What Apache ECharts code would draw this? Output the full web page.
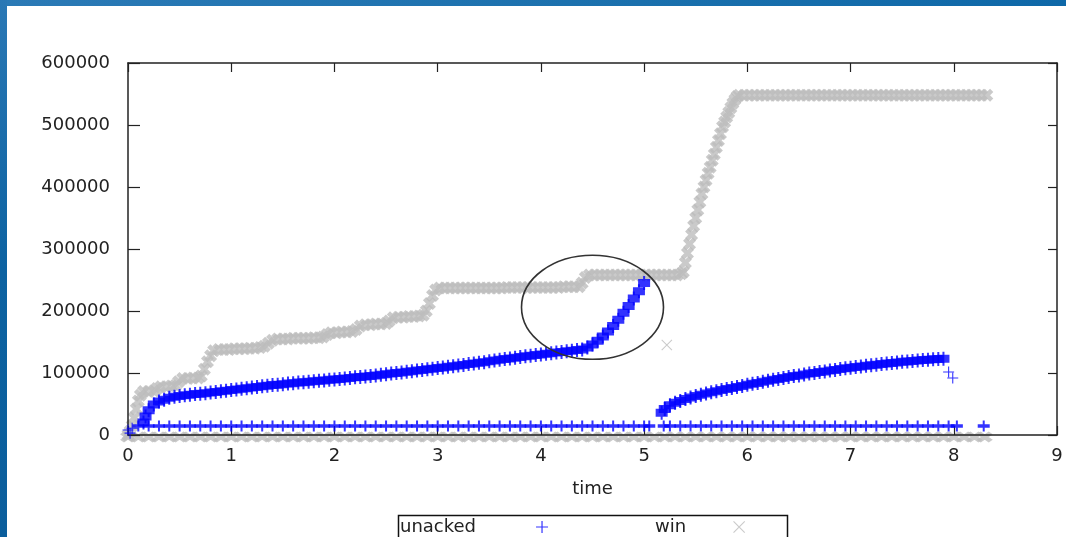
<!DOCTYPE html>
<html>
<head>
<meta charset="utf-8">
<script src="https://cdn.jsdelivr.net/npm/echarts@6/dist/echarts.min.js"></script>
<style>
  html, body { margin: 0; padding: 0; background: #ffffff; }
  #topbar { position: absolute; left: 0; top: 0; width: 1066px; height: 6px;
            background: linear-gradient(90deg, #2b7ab6, #1a70ad 60%, #0e68a8); }
  #sidebar { position: absolute; left: 0; top: 0; width: 7px; height: 537px;
             background: linear-gradient(180deg, #2a78b5, #0c62a1 50%, #0b5e9c); }
  #main { position: absolute; left: 0; top: 0; width: 1066px; height: 537px; }
</style>
</head>
<body>
<div id="topbar"></div>
<div id="sidebar"></div>
<div id="main"></div>
<script>
// ---- data: [time, bytes] ----
var unackedMain = [
  [0.15,20000],[0.17,30000],[0.20,40000],[0.25,49000],[0.30,54000],[0.35,57000],[0.40,60000],[0.45,61500],
  [0.50,63000],[0.55,64000],[0.60,65000],[0.65,66000],[0.70,66500],[0.75,67500],[0.80,68500],[0.85,69500],
  [0.90,70500],[0.95,71500],[1.00,72500],[1.05,73500],[1.10,74500],[1.15,75500],[1.20,76500],[1.25,77500],
  [1.30,78500],[1.35,79500],[1.40,80500],[1.45,81000],[1.50,82000],[1.55,83000],[1.60,83500],[1.65,84500],
  [1.70,85000],[1.75,86000],[1.80,86500],[1.85,87500],[1.90,88000],[1.95,89000],[2.00,89500],[2.05,90500],
  [2.10,91000],[2.15,92000],[2.20,93000],[2.25,93500],[2.30,94500],[2.35,95000],[2.40,96000],[2.45,97000],
  [2.50,98000],[2.55,99000],[2.60,100000],[2.65,101000],[2.70,102000],[2.75,103000],[2.80,104000],[2.85,105000],
  [2.90,106000],[2.95,107000],[3.00,108000],[3.05,109000],[3.10,110000],[3.15,111000],[3.20,112000],[3.25,113000],
  [3.30,114500],[3.35,115500],[3.40,116500],[3.45,117500],[3.50,119000],[3.55,120000],[3.60,121500],[3.65,122500],
  [3.70,123500],[3.75,124500],[3.80,126000],[3.85,127000],[3.90,128000],[3.95,129000],[4.00,130000],[4.05,131000],
  [4.10,132000],[4.15,133000],[4.20,134000],[4.25,135000],[4.30,136000],[4.35,137000],[4.40,138000],[4.45,141000],
  [4.50,146000],[4.55,152000],[4.60,159000],[4.65,167000],[4.70,176000],[4.75,186000],[4.80,197000],[4.85,208000],
  [4.90,220000],[4.95,232000],[5.00,245000]
];
var unackedLate = [
  [5.17,36000],[5.20,42000],[5.25,48000],[5.30,52000],[5.35,55000],[5.40,58000],[5.45,60500],[5.50,63000],
  [5.55,65000],[5.60,67000],[5.65,69000],[5.70,70500],[5.75,72500],[5.80,74000],[5.85,76000],[5.90,77500],
  [5.95,79000],[6.00,81000],[6.05,82500],[6.10,84000],[6.15,86000],[6.20,87500],[6.25,89000],[6.30,90500],
  [6.35,92000],[6.40,93500],[6.45,95000],[6.50,96000],[6.55,97500],[6.60,99000],[6.65,100000],[6.70,101500],
  [6.75,102500],[6.80,104000],[6.85,105000],[6.90,106500],[6.95,107500],[7.00,108500],[7.05,109500],[7.10,110500],
  [7.15,111500],[7.20,112500],[7.25,113500],[7.30,114500],[7.35,115500],[7.40,116000],[7.45,117000],[7.50,118000],
  [7.55,118500],[7.60,119500],[7.65,120000],[7.70,121000],[7.75,121500],[7.80,122000],[7.85,122500],[7.90,123000]
];
var unackedFloorLevel = 14500;
var unackedFloorTimes = [
  0.10,0.20,0.30,0.40,0.50,0.60,0.70,0.80,0.90,1.00,1.10,1.20,1.30,1.40,1.50,1.60,1.70,1.80,1.90,2.00,
  2.10,2.20,2.30,2.40,2.50,2.60,2.70,2.80,2.90,3.00,3.10,3.20,3.30,3.40,3.50,3.60,3.70,3.80,3.90,4.00,
  4.10,4.20,4.30,4.40,4.50,4.60,4.70,4.80,4.90,5.00,5.05,
  5.19,5.25,5.35,5.45,5.55,5.65,5.75,5.85,5.95,6.05,6.15,6.25,6.35,6.45,6.55,6.65,6.75,6.85,6.95,
  7.05,7.15,7.25,7.35,7.45,7.55,7.65,7.75,7.85,7.95,8.03,8.29
];
var unackedStray = [[0.00,8000],[0.02,3000],[0.04,11000],[7.95,101500],[7.99,92000]];

var winStairs = [
  [0.00,0],[0.02,6000],[0.04,15000],[0.06,28000],[0.08,42000],[0.10,55000],[0.12,64000],
  [0.15,70000],[0.20,70000],[0.25,71000],
  [0.28,75000],[0.32,78000],[0.37,78000],[0.42,79000],[0.46,80000],
  [0.49,86000],[0.53,91000],[0.58,91000],[0.63,92000],[0.68,92000],[0.71,95000],
  [0.74,106000],[0.77,118000],[0.80,128000],
  [0.83,136000],[0.88,138000],[0.93,138000],[0.98,138000],[1.03,139000],[1.08,139000],[1.13,139000],
  [1.18,140000],[1.23,140000],[1.28,141000],[1.32,143000],
  [1.36,148000],[1.40,153000],[1.45,155000],[1.50,155000],[1.55,155000],[1.60,156000],[1.65,156000],
  [1.70,156000],[1.75,156000],[1.80,157000],[1.85,157000],[1.89,158000],
  [1.93,162000],[1.97,165000],[2.02,165000],[2.07,166000],[2.12,166000],[2.17,167000],[2.21,170000],
  [2.25,176000],[2.30,178000],[2.35,178000],[2.40,179000],[2.45,179000],[2.50,180000],[2.53,184000],
  [2.57,189000],[2.62,190000],[2.67,190000],[2.72,191000],[2.77,191000],[2.82,192000],[2.86,193000],
  [2.89,200000],[2.92,212000],[2.95,225000],[2.98,234000],
  [3.02,237000],[3.07,237000],[3.12,237000],[3.17,237000],[3.22,237000],[3.27,237000],[3.32,237000],
  [3.37,237000],[3.42,237000],[3.47,237000],[3.52,237000],[3.57,237000],[3.62,237000],[3.67,238000],
  [3.72,238000],[3.77,238000],[3.82,238000],[3.87,238000],[3.92,238000],[3.97,238000],[4.02,238000],
  [4.07,238000],[4.12,238000],[4.17,238000],[4.22,239000],[4.27,239000],[4.32,239000],[4.37,239000],
  [4.40,245000],[4.43,254000],
  [4.47,258000],[4.52,258000],[4.57,258000],[4.62,258000],[4.67,258000],[4.72,258000],[4.77,258000],
  [4.82,258000],[4.87,258000],[4.92,258000],[4.97,258000],[5.02,258000],[5.07,258000],[5.12,258000],
  [5.17,258000],[5.22,258000],[5.27,258000],[5.32,258000],[5.36,260000],
  [5.38,263000],[5.40,278000],[5.42,293000],[5.44,308000],[5.46,323000],[5.48,337000],[5.50,350000],
  [5.52,363000],[5.54,376000],[5.56,389000],[5.58,400000],[5.60,411000],[5.62,422000],[5.64,432000],
  [5.66,443000],[5.68,453000],[5.70,464000],[5.72,475000],[5.74,486000],[5.76,497000],[5.78,505000],
  [5.80,513000],[5.82,520000],[5.84,528000],[5.86,535000],[5.88,541000],[5.90,546000],
  [5.92,548000],[5.97,548000],[6.02,548000],[6.07,548000],[6.12,548000],[6.17,548000],[6.22,548000],
  [6.27,548000],[6.32,548000],[6.37,548000],[6.42,548000],[6.47,548000],[6.52,548000],[6.57,548000],
  [6.62,548000],[6.67,548000],[6.72,548000],[6.77,548000],[6.82,548000],[6.87,548000],[6.92,548000],
  [6.97,548000],[7.02,548000],[7.07,548000],[7.12,548000],[7.17,548000],[7.22,548000],[7.27,548000],
  [7.32,548000],[7.37,548000],[7.42,548000],[7.47,548000],[7.52,548000],[7.57,548000],[7.62,548000],
  [7.67,548000],[7.72,548000],[7.77,548000],[7.82,548000],[7.87,548000],[7.92,548000],[7.97,548000],
  [8.02,548000],[8.07,548000],[8.12,548000],[8.17,548000],[8.22,548000],[8.27,548000],[8.32,548000]
];
var winFloorLevel = 0;
var winFloorTimes = [
  0.0,0.1,0.2,0.3,0.4,0.5,0.6,0.7,0.8,0.9,1.0,1.1,1.2,1.3,1.4,1.5,1.6,1.7,1.8,1.9,2.0,2.1,2.2,2.3,2.4,
  2.5,2.6,2.7,2.8,2.9,3.0,3.1,3.2,3.3,3.4,3.5,3.6,3.7,3.8,3.9,4.0,4.1,4.2,4.3,4.4,4.5,4.6,4.7,4.8,4.9,
  5.0,5.1,5.2,5.3,5.4,5.5,5.6,5.7,5.8,5.9,6.0,6.1,6.2,6.3,6.4,6.5,6.6,6.7,6.8,6.9,7.0,7.1,7.2,7.3,7.4,
  7.5,7.6,7.7,7.8,7.9,8.0,8.1,8.2,8.3
];
var winStray = [[5.22,145000]];

// annotation ellipse around the knee of the unacked curve (data coords)
var circleCenter = [4.5, 206000];

var FONT = 'DejaVu Sans';
var TXT = '#222222';
var BLUE = '#0000ff';
var GREY = '#bdbdbd';

var plusBold = 'path://M0,3H12V11H0Z M5,0H7V14H5Z';
var plusFloor = 'path://M0,4H12V8H0Z M5,0H7V12H5Z';
var plusThin = 'path://M0,5.4H12V6.6H0Z M5.4,0H6.6V12H5.4Z';
var crossSym = 'path://M0,3L3,0L12,9L9,12Z M9,0L12,3L3,12L0,9Z';
var crossThin = 'path://M0,0.8L0.8,0L12,11.2L11.2,12Z M11.2,0L12,0.8L0.8,12L0,11.2Z';

var floorPts = unackedFloorTimes.map(function (t) { return [t, unackedFloorLevel]; });
var winFloorPts = winFloorTimes.map(function (t) { return [t, winFloorLevel]; });

var chart = echarts.init(document.getElementById('main'));

var frameLine = { show: true, onZero: false, lineStyle: { color: '#222', width: 1.5 } };
var innerTick = { show: true, inside: true, length: 9, lineStyle: { color: '#222', width: 1.2 } };
var legendText = { fontFamily: FONT, fontSize: 18, color: TXT };

chart.setOption({
  animation: false,
  backgroundColor: 'transparent',
  grid: { left: 128, right: 9, top: 63, bottom: 102, outerBoundsMode: 'none' },
  legend: [{
    left: 400, top: 518, align: 'right', padding: 0,
    itemWidth: 12, itemHeight: 12, selectedMode: false,
    data: [{ name: 'unacked', icon: plusThin }],
    textStyle: Object.assign({ padding: [0, 55, 0, 0] }, legendText)
  }, {
    left: 655, top: 518, align: 'right', padding: 0,
    itemWidth: 12, itemHeight: 12, selectedMode: false,
    data: [{ name: 'win', icon: crossThin }],
    textStyle: Object.assign({ padding: [0, 42, 0, 0] }, legendText)
  }],
  xAxis: [{
    type: 'value', min: 0, max: 9, interval: 1, position: 'bottom', z: 3,
    name: 'time', nameLocation: 'middle', nameGap: 45,
    nameTextStyle: { fontFamily: FONT, fontSize: 18, color: TXT },
    axisLine: frameLine, axisTick: innerTick,
    axisLabel: { margin: 12, fontFamily: FONT, fontSize: 18, color: TXT },
    splitLine: { show: false }
  }, {
    type: 'value', min: 0, max: 9, interval: 1, position: 'top', z: 3,
    axisLine: frameLine, axisTick: innerTick,
    axisLabel: { show: false },
    splitLine: { show: false }
  }],
  yAxis: [{
    type: 'value', min: 0, max: 600000, interval: 100000, position: 'left', z: 3,
    axisLine: frameLine,
    axisTick: { show: true, inside: true, length: 12, lineStyle: { color: '#222', width: 1.2 } },
    axisLabel: { margin: 18, fontFamily: FONT, fontSize: 18, color: TXT,
                 formatter: function (v) { return String(v); } },
    splitLine: { show: false }
  }, {
    type: 'value', min: 0, max: 600000, interval: 100000, position: 'right', z: 3,
    axisLine: frameLine, axisTick: innerTick,
    axisLabel: { show: false },
    splitLine: { show: false }
  }],
  series: [
    { name: 'win', type: 'scatter', z: 2, clip: false, data: winFloorPts,
      symbol: crossSym, symbolSize: [16, 11], symbolOffset: [0, 2], itemStyle: { color: GREY } },
    { name: 'win', type: 'scatter', z: 2, clip: false, data: winStairs,
      symbol: crossSym, symbolSize: 13, itemStyle: { color: GREY } },
    { name: 'win', type: 'scatter', z: 2, clip: false, data: winStray,
      symbol: crossThin, symbolSize: 11, itemStyle: { color: GREY } },
    { name: 'unacked', type: 'scatter', z: 4, clip: false, data: unackedMain,
      symbol: plusBold, symbolSize: [12, 14], itemStyle: { color: BLUE } },
    { name: 'unacked', type: 'scatter', z: 4, clip: false, data: unackedLate,
      symbol: plusBold, symbolSize: [12, 14], itemStyle: { color: BLUE } },
    { name: 'unacked', type: 'scatter', z: 4, clip: false, data: floorPts,
      symbol: plusFloor, symbolSize: [12, 11], itemStyle: { color: BLUE } },
    { name: 'unacked', type: 'scatter', z: 4, clip: false, data: unackedStray,
      symbol: plusThin, symbolSize: 11, itemStyle: { color: BLUE } }
  ]
});

var c = chart.convertToPixel({ gridIndex: 0 }, circleCenter);
chart.setOption({
  graphic: [{
    type: 'rect', z: 5,
    shape: { x: 398.5, y: 515.5, width: 389, height: 40 },
    style: { fill: 'none', stroke: '#111', lineWidth: 1.5 }
  }, {
    type: 'ellipse', z: 10,
    shape: { cx: c[0], cy: c[1], rx: 71, ry: 52 },
    style: { fill: 'none', stroke: '#333', lineWidth: 1.6 }
  }]
});
</script>
</body>
</html>
